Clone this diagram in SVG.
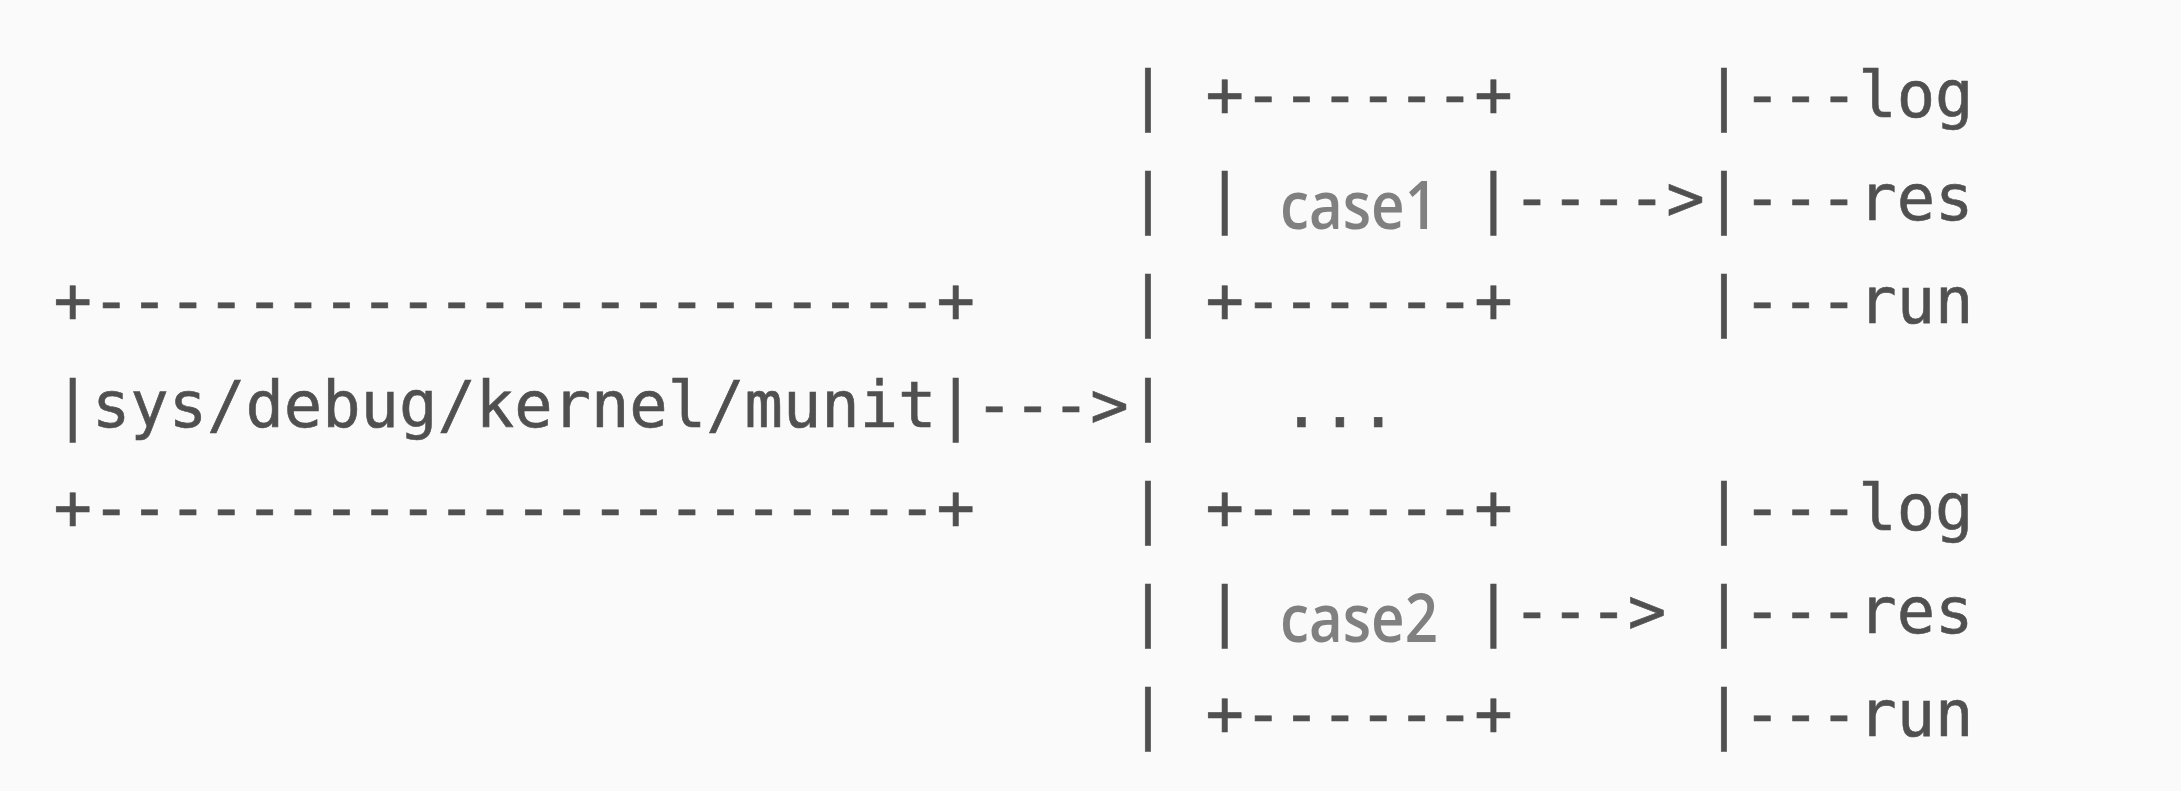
<svg xmlns="http://www.w3.org/2000/svg" width="2181" height="791" viewBox="0 0 2181 791">
  <style>
    .m { font-family: "DejaVu Sans Mono", "Liberation Mono", monospace; font-size: 63.78px; fill: #505050; stroke: #505050; stroke-width: 0.6px; white-space: pre; }
    .c { font-family: "Open Sans", "Noto Sans", sans-serif; font-size: 67px; font-weight: 600; fill: #808080; }
  </style>
  <rect x="0" y="0" width="2181" height="791" fill="#fafafa"/>

  <g id="munit">
    <text class="m" x="53.5" y="323.4">+----------------------+</text>
    <text class="m" x="53.5" y="426.6">|sys/debug/kernel/munit|</text>
    <text class="m" x="53.5" y="529.8">+----------------------+</text>
  </g>

  <g id="trunk">
    <text class="m" x="1128.7" y="117">|</text>
    <text class="m" x="1128.7" y="220.2">|</text>
    <text class="m" x="1128.7" y="323.4">|</text>
    <text class="m" x="1128.7" y="426.6">|</text>
    <text class="m" x="1128.7" y="529.8">|</text>
    <text class="m" x="1128.7" y="633">|</text>
    <text class="m" x="1128.7" y="736.2">|</text>
  </g>

  <g id="case1">
    <text class="m" x="1205.5" y="117">+------+</text>
    <text class="m" x="1205.5" y="220.2">|</text>
    <text class="c" x="1280" y="228.8" textLength="158" lengthAdjust="spacingAndGlyphs">case1</text>
    <text class="m" x="1474.3" y="220.2">|</text>
    <text class="m" x="1205.5" y="323.4">+------+</text>
  </g>

  <g id="ellipsis">
    <text class="m" x="1282.3" y="426.6">...</text>
  </g>

  <g id="case2">
    <text class="m" x="1205.5" y="529.8">+------+</text>
    <text class="m" x="1205.5" y="633">|</text>
    <text class="c" x="1280" y="641.6" textLength="158" lengthAdjust="spacingAndGlyphs">case2</text>
    <text class="m" x="1474.3" y="633">|</text>
    <text class="m" x="1205.5" y="736.2">+------+</text>
  </g>

  <g id="out1">
    <text class="m" x="1704.7" y="117">|---log</text>
    <text class="m" x="1704.7" y="220.2">|---res</text>
    <text class="m" x="1704.7" y="323.4">|---run</text>
  </g>

  <g id="out2">
    <text class="m" x="1704.7" y="529.8">|---log</text>
    <text class="m" x="1704.7" y="633">|---res</text>
    <text class="m" x="1704.7" y="736.2">|---run</text>
  </g>

  <g id="connectors">
    <text class="m" x="975.1" y="426.6">---&gt;</text>
    <text class="m" x="1512.7" y="220.2">----&gt;</text>
    <text class="m" x="1512.7" y="633">---&gt;</text>
  </g>
</svg>
